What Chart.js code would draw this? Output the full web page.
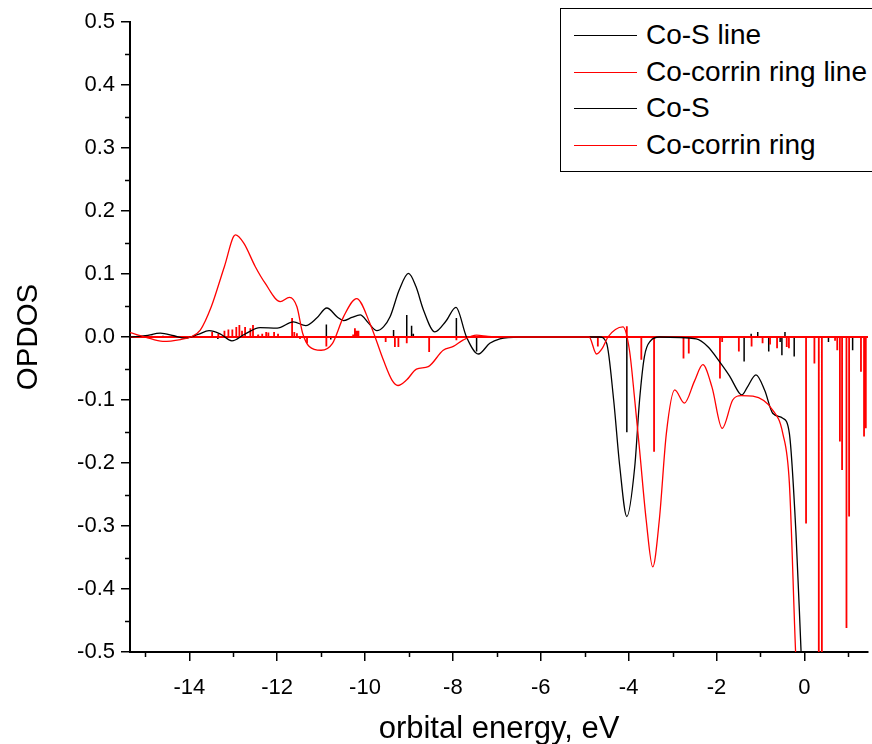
<!DOCTYPE html>
<html>
	<head>
		<script src="https://cdn.jsdelivr.net/npm/chart.js@4"></script>
		<style>
			body { margin: 0; background: #fff; }
			#wrap { position: relative; width: 872px; height: 744px; overflow: hidden; }
			#legend { position: absolute; left: 560px; top: 8px; width: 330px; height: 164px; border: 1.5px solid #000; background: #fff; box-sizing: border-box; font-family: "Liberation Sans", Arial, sans-serif; font-size: 28px; }
			#legend div { position: absolute; left: 0; height: 32px; line-height: 32px; white-space: nowrap; }
			#legend span.swatch { position: absolute; left: 13px; top: 16px; width: 63px; height: 0; border-top: 1.3px solid; }
			#legend span.txt { position: absolute; left: 85px; top: 0; }
		</style>
	</head>
	<body>
		<div id="wrap">
			<canvas id="myChart" width="872" height="744"></canvas>
			<div id="legend"></div>
		</div>
		<script>
			// axis range and ticks
			let xMin = -15.35, xMax = 1.45;
			let xMajor = [-14, -12, -10, -8, -6, -4, -2, 0];
			let xMinor = [-15, -13, -11, -9, -7, -5, -3, -1, 1];
			let yMajor = [-0.5, -0.4, -0.3, -0.2, -0.1, 0.0, 0.1, 0.2, 0.3, 0.4, 0.5];
			let yMinor = [-0.45, -0.35, -0.25, -0.15, -0.05, 0.05, 0.15, 0.25, 0.35, 0.45];

			// Co-S broadened curve
			let coS_E = [-15.35, -15.0, -14.66, -14.35, -14.1, -13.8, -13.55, -13.3, -13.03, -12.75, -12.39, -12.0, -11.63, -11.35, -11.1, -10.87, -10.62, -10.49, -10.3, -10.11, -9.92, -9.73, -9.58, -9.43, -9.22, -9.01, -8.84, -8.67, -8.41, -8.16, -7.93, -7.69, -7.42, -7.16, -6.93, -6.5, -4.66, -4.5, -4.34, -4.2, -4.04, -3.86, -3.75, -3.64, -3.5, -3.3, -2.46, -2.2, -1.93, -1.7, -1.48, -1.42, -1.3, -1.1, -0.9, -0.72, -0.49, -0.34, -0.19, -0.075, 0.0];
			let coS_V = [0.000, 0.002, 0.006, 0.002, -0.002, 0.004, 0.010, 0.005, -0.006, 0.004, 0.015, 0.014, 0.024, 0.018, 0.030, 0.046, 0.031, 0.026, 0.031, 0.035, 0.022, 0.010, 0.016, 0.032, 0.075, 0.101, 0.080, 0.043, 0.008, 0.025, 0.047, 0.000, -0.027, -0.010, -0.003, 0.000, 0.000, -0.010, -0.100, -0.206, -0.285, -0.206, -0.100, -0.031, -0.006, 0.000, -0.003, -0.015, -0.039, -0.062, -0.089, -0.092, -0.080, -0.060, -0.085, -0.121, -0.129, -0.153, -0.311, -0.497, -0.620];

			// Co-corrin ring broadened curve
			let ring_E = [-15.35, -15.0, -14.6, -14.2, -13.97, -13.75, -13.5, -13.2, -12.95, -12.76, -12.5, -12.27, -11.93, -11.72, -11.55, -11.42, -11.27, -11.0, -10.74, -10.49, -10.19, -9.89, -9.58, -9.39, -9.25, -9.05, -8.83, -8.56, -8.22, -7.99, -7.77, -7.46, -7.2, -6.9, -4.9, -4.73, -4.6, -4.47, -4.3, -4.13, -3.98, -3.86, -3.75, -3.6, -3.45, -3.3, -3.14, -2.95, -2.73, -2.5, -2.31, -2.1, -1.87, -1.63, -1.44, -1.17, -0.72, -0.49, -0.34, -0.2, -0.1];
			let ring_V = [0.007, 0.000, -0.007, -0.004, 0.000, 0.011, 0.048, 0.112, 0.162, 0.149, 0.112, 0.085, 0.056, 0.063, 0.048, 0.006, -0.015, -0.021, -0.010, 0.032, 0.061, 0.022, -0.037, -0.068, -0.077, -0.068, -0.051, -0.047, -0.021, -0.015, -0.005, 0.003, 0.001, 0.000, 0.000, -0.027, -0.018, 0.000, 0.012, 0.016, -0.021, -0.100, -0.179, -0.290, -0.365, -0.290, -0.153, -0.084, -0.105, -0.070, -0.044, -0.080, -0.145, -0.100, -0.093, -0.094, -0.116, -0.153, -0.232, -0.497, -0.650];

			// Co-S orbital sticks
			let coS_stickE = [-14.85, -14.6, -14.4, -13.35, -12.43, -11.98, -10.88, -10.78, -9.35, -9.05, -8.94, -8.9, -7.92, -7.46, -4.04, -1.37, -1.21, -1.06, -0.81, -0.55, -0.51, -0.44, -0.23, 0.55, 1.1];
			let coS_stickV = [0.002, 0.002, 0.002, -0.003, 0.003, 0.002, 0.020, -0.004, 0.011, 0.035, 0.018, 0.005, 0.030, -0.023, -0.151, -0.039, 0.005, 0.008, -0.023, -0.008, -0.029, 0.008, -0.031, -0.008, -0.021];

			// Co-corrin ring orbital sticks
			let ring_stickE = [-13.48, -13.34, -13.2, -13.11, -13.02, -12.93, -12.86, -12.8, -12.73, -12.61, -12.55, -12.43, -12.34, -12.25, -12.2, -12.07, -11.98, -11.66, -11.61, -11.55, -11.48, -11.32, -10.88, -10.27, -10.23, -10.19, -10.15, -9.53, -9.32, -9.24, -9.05, -8.54, -7.92, -4.70, -4.04, -3.71, -3.42, -2.75, -2.63, -1.92, -1.87, -1.49, -1.2, -0.95, -0.78, -0.62, -0.4, -0.35, 0.04, 0.23, 0.33, 0.40, 0.7, 0.75, 0.81, 0.86, 0.96, 1.02, 1.29, 1.36, 1.4];
			let ring_stickV = [0.008, 0.005, 0.010, 0.012, 0.012, 0.016, 0.019, 0.010, 0.016, 0.014, 0.019, 0.004, 0.005, 0.008, 0.007, 0.008, 0.005, 0.030, 0.008, 0.006, -0.003, -0.010, -0.015, 0.004, 0.014, 0.010, 0.010, -0.008, -0.016, -0.016, -0.010, -0.024, -0.005, -0.015, 0.017, -0.036, -0.182, -0.034, -0.026, -0.066, -0.008, -0.023, -0.015, -0.010, -0.012, -0.018, -0.016, -0.018, -0.296, -0.042, -0.600, -0.600, -0.006, -0.021, -0.166, -0.211, -0.462, -0.285, -0.055, -0.158, -0.145];

			function curve(es, vs) {
				return es.map((e, i) => ({x: e, y: vs[i]}));
			}

			// stick spectrum drawn as one line along the zero baseline
			function sticks(es, vs) {
				let pts = [{x: xMin, y: 0}];
				es.forEach((e, i) => {
					pts.push({x: e, y: 0}, {x: e, y: vs[i]}, {x: e, y: 0});
				});
				pts.push({x: xMax, y: 0});
				return pts;
			}

			let font = "'Liberation Sans', Arial, sans-serif";

			let minorTicks = {
				id: 'minorTicks',
				afterDraw(chart) {
					let c = chart.ctx, xs = chart.scales.x, ys = chart.scales.y;
					c.save();
					c.strokeStyle = '#000';
					c.lineWidth = 1.5;
					c.beginPath();
					xMinor.forEach(v => {
						let px = Math.round(xs.getPixelForValue(v)) + 0.5;
						c.moveTo(px, xs.top);
						c.lineTo(px, xs.top + 5);
					});
					yMinor.forEach(v => {
						let py = Math.round(ys.getPixelForValue(v)) + 0.5;
						c.moveTo(ys.right, py);
						c.lineTo(ys.right - 5, py);
					});
					c.stroke();
					c.restore();
				}
			};

			let ctx = document.getElementById('myChart').getContext('2d');

			let chart = new Chart(ctx, {
				type: 'line',
				data: {
					datasets: [{
						label: 'Co-S line',
						data: sticks(coS_stickE, coS_stickV),
						borderColor: '#000',
						borderWidth: 1.5,
						tension: 0,
						order: 3
					}, {
						label: 'Co-corrin ring line',
						data: sticks(ring_stickE, ring_stickV),
						borderColor: '#ff0000',
						borderWidth: 1.8,
						tension: 0,
						order: 2
					}, {
						label: 'Co-S',
						data: curve(coS_E, coS_V),
						borderColor: '#000',
						borderWidth: 1.3,
						cubicInterpolationMode: 'monotone',
						order: 1
					}, {
						label: 'Co-corrin ring',
						data: curve(ring_E, ring_V),
						borderColor: '#ff0000',
						borderWidth: 1.3,
						cubicInterpolationMode: 'monotone',
						order: 0
					}]
				},
				options: {
					responsive: false,
					animation: false,
					parsing: false,
					elements: { point: { radius: 0, hoverRadius: 0 } },
					layout: { padding: { left: 0, right: 4, top: 22, bottom: 0 } },
					plugins: {
						legend: { display: false },
						tooltip: { enabled: false }
					},
					scales: {
						x: {
							type: 'linear',
							min: xMin,
							max: xMax,
							afterBuildTicks: s => { s.ticks = xMajor.map(v => ({value: v})); },
							afterFit: s => { s.height = 92; },
							ticks: {
								callback: v => String(v),
								color: '#000',
								font: { family: font, size: 22 },
								padding: 14,
								maxRotation: 0
							},
							grid: { drawOnChartArea: false, tickLength: 9, color: '#000', lineWidth: 1.5 },
							border: { color: '#000', width: 2 },
							title: {
								display: true,
								text: 'orbital energy, eV',
								color: '#000',
								font: { family: font, size: 31 },
								padding: { top: 0, bottom: -4 }
							}
						},
						y: {
							type: 'linear',
							min: -0.5,
							max: 0.5,
							afterBuildTicks: s => { s.ticks = yMajor.map(v => ({value: v})); },
							afterFit: s => { s.width = 130; },
							ticks: {
								callback: v => v.toFixed(1),
								color: '#000',
								font: { family: font, size: 22 },
								padding: 6
							},
							grid: { drawOnChartArea: false, tickLength: 9, color: '#000', lineWidth: 1.5 },
							border: { color: '#000', width: 2 },
							title: {
								display: true,
								text: 'OPDOS',
								color: '#000',
								font: { family: font, size: 29.5 },
								padding: { top: 11, bottom: 0 }
							}
						}
					}
				},
				plugins: [minorTicks]
			});

			// legend box, built from the datasets
			let legend = document.getElementById('legend');
			chart.data.datasets.forEach((ds, i) => {
				let row = document.createElement('div');
				row.style.top = (10 + i * 36.7) + 'px';
				row.innerHTML = '<span class="swatch" style="border-color:' + ds.borderColor + '"></span><span class="txt">' + ds.label + '</span>';
				legend.appendChild(row);
			});
		</script>
	</body>
</html>
